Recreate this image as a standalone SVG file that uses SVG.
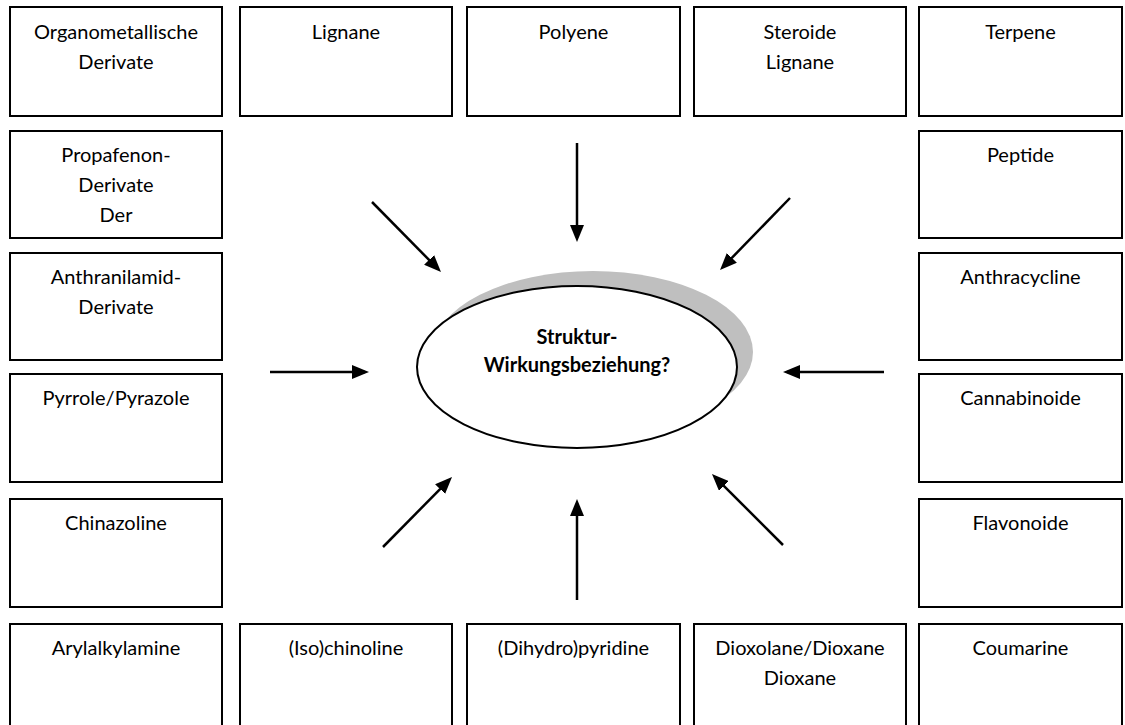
<svg xmlns="http://www.w3.org/2000/svg" width="1125" height="725" viewBox="0 0 1125 725">
<style>
.box{fill:#fff;stroke:#000;stroke-width:2}
.t{font-family:Lato,"Open Sans","Liberation Sans",sans-serif;font-size:20px;fill:#000;text-anchor:middle}
.b{font-weight:bold}
.arr{stroke:#000;stroke-width:2.5;fill:none;marker-end:url(#ah)}
</style>
<defs>
<marker id="ah" viewBox="0 0 17 14" refX="13" refY="7" markerWidth="17" markerHeight="14" markerUnits="userSpaceOnUse" orient="auto">
<path d="M0,0 L17,7 L0,14 z" fill="#000"/>
</marker>
</defs>
<rect width="1125" height="725" fill="#fff"/>
<g id="n-organometallische"><rect class="box" x="10" y="7" width="212" height="109"/><text class="t" x="116" y="39">Organometallische</text><text class="t" x="116" y="69">Derivate</text></g>
<g id="n-lignane"><rect class="box" x="240" y="7" width="212" height="109"/><text class="t" x="346" y="39">Lignane</text></g>
<g id="n-polyene"><rect class="box" x="467" y="7" width="213" height="109"/><text class="t" x="573.5" y="39">Polyene</text></g>
<g id="n-steroide"><rect class="box" x="694" y="7" width="212" height="109"/><text class="t" x="800" y="39">Steroide</text><text class="t" x="800" y="69">Lignane</text></g>
<g id="n-terpene"><rect class="box" x="919" y="7" width="203" height="109"/><text class="t" x="1020.5" y="39">Terpene</text></g>
<g id="n-propafenon"><rect class="box" x="10" y="131" width="212" height="107"/><text class="t" x="116" y="162">Propafenon-</text><text class="t" x="116" y="192">Derivate</text><text class="t" x="116" y="222">Der</text></g>
<g id="n-anthranilamid"><rect class="box" x="10" y="253" width="212" height="107"/><text class="t" x="116" y="284">Anthranilamid-</text><text class="t" x="116" y="314">Derivate</text></g>
<g id="n-pyrrole"><rect class="box" x="10" y="374" width="212" height="108"/><text class="t" x="116" y="405">Pyrrole/Pyrazole</text></g>
<g id="n-chinazoline"><rect class="box" x="10" y="499" width="212" height="108"/><text class="t" x="116" y="530">Chinazoline</text></g>
<g id="n-peptide"><rect class="box" x="919" y="131" width="203" height="107"/><text class="t" x="1020.5" y="162">Peptide</text></g>
<g id="n-anthracycline"><rect class="box" x="919" y="253" width="203" height="107"/><text class="t" x="1020.5" y="284">Anthracycline</text></g>
<g id="n-cannabinoide"><rect class="box" x="919" y="374" width="203" height="108"/><text class="t" x="1020.5" y="405">Cannabinoide</text></g>
<g id="n-flavonoide"><rect class="box" x="919" y="499" width="203" height="108"/><text class="t" x="1020.5" y="530">Flavonoide</text></g>
<g id="n-arylalkylamine"><rect class="box" x="10" y="624" width="212" height="110"/><text class="t" x="116" y="655">Arylalkylamine</text></g>
<g id="n-isochinoline"><rect class="box" x="240" y="624" width="212" height="110"/><text class="t" x="346" y="655">(Iso)chinoline</text></g>
<g id="n-dihydropyridine"><rect class="box" x="467" y="624" width="213" height="110"/><text class="t" x="573.5" y="655">(Dihydro)pyridine</text></g>
<g id="n-dioxolane"><rect class="box" x="694" y="624" width="212" height="110"/><text class="t" x="800" y="655">Dioxolane/Dioxane</text><text class="t" x="800" y="685">Dioxane</text></g>
<g id="n-coumarine"><rect class="box" x="919" y="624" width="203" height="110"/><text class="t" x="1020.5" y="655">Coumarine</text></g>
<g id="n-center">
<ellipse cx="593" cy="352" rx="160" ry="81" fill="#bfbfbf"/>
<ellipse cx="577" cy="367" rx="160" ry="81" fill="#fff" stroke="#000" stroke-width="2"/>
<text class="t b" x="577" y="344">Struktur-</text>
<text class="t b" x="577" y="372">Wirkungsbeziehung?</text>
</g>
<g id="connectors">
<line class="arr" x1="372" y1="202" x2="438.2" y2="269.2"/>
<line class="arr" x1="577" y1="143" x2="577" y2="238"/>
<line class="arr" x1="790" y1="198" x2="722.8" y2="267.2"/>
<line class="arr" x1="270" y1="372" x2="365" y2="372"/>
<line class="arr" x1="884" y1="372" x2="787" y2="372"/>
<line class="arr" x1="383" y1="547" x2="449.2" y2="479.8"/>
<line class="arr" x1="577" y1="600" x2="577" y2="503"/>
<line class="arr" x1="783" y1="545" x2="714.8" y2="476.8"/>
</g>
</svg>
